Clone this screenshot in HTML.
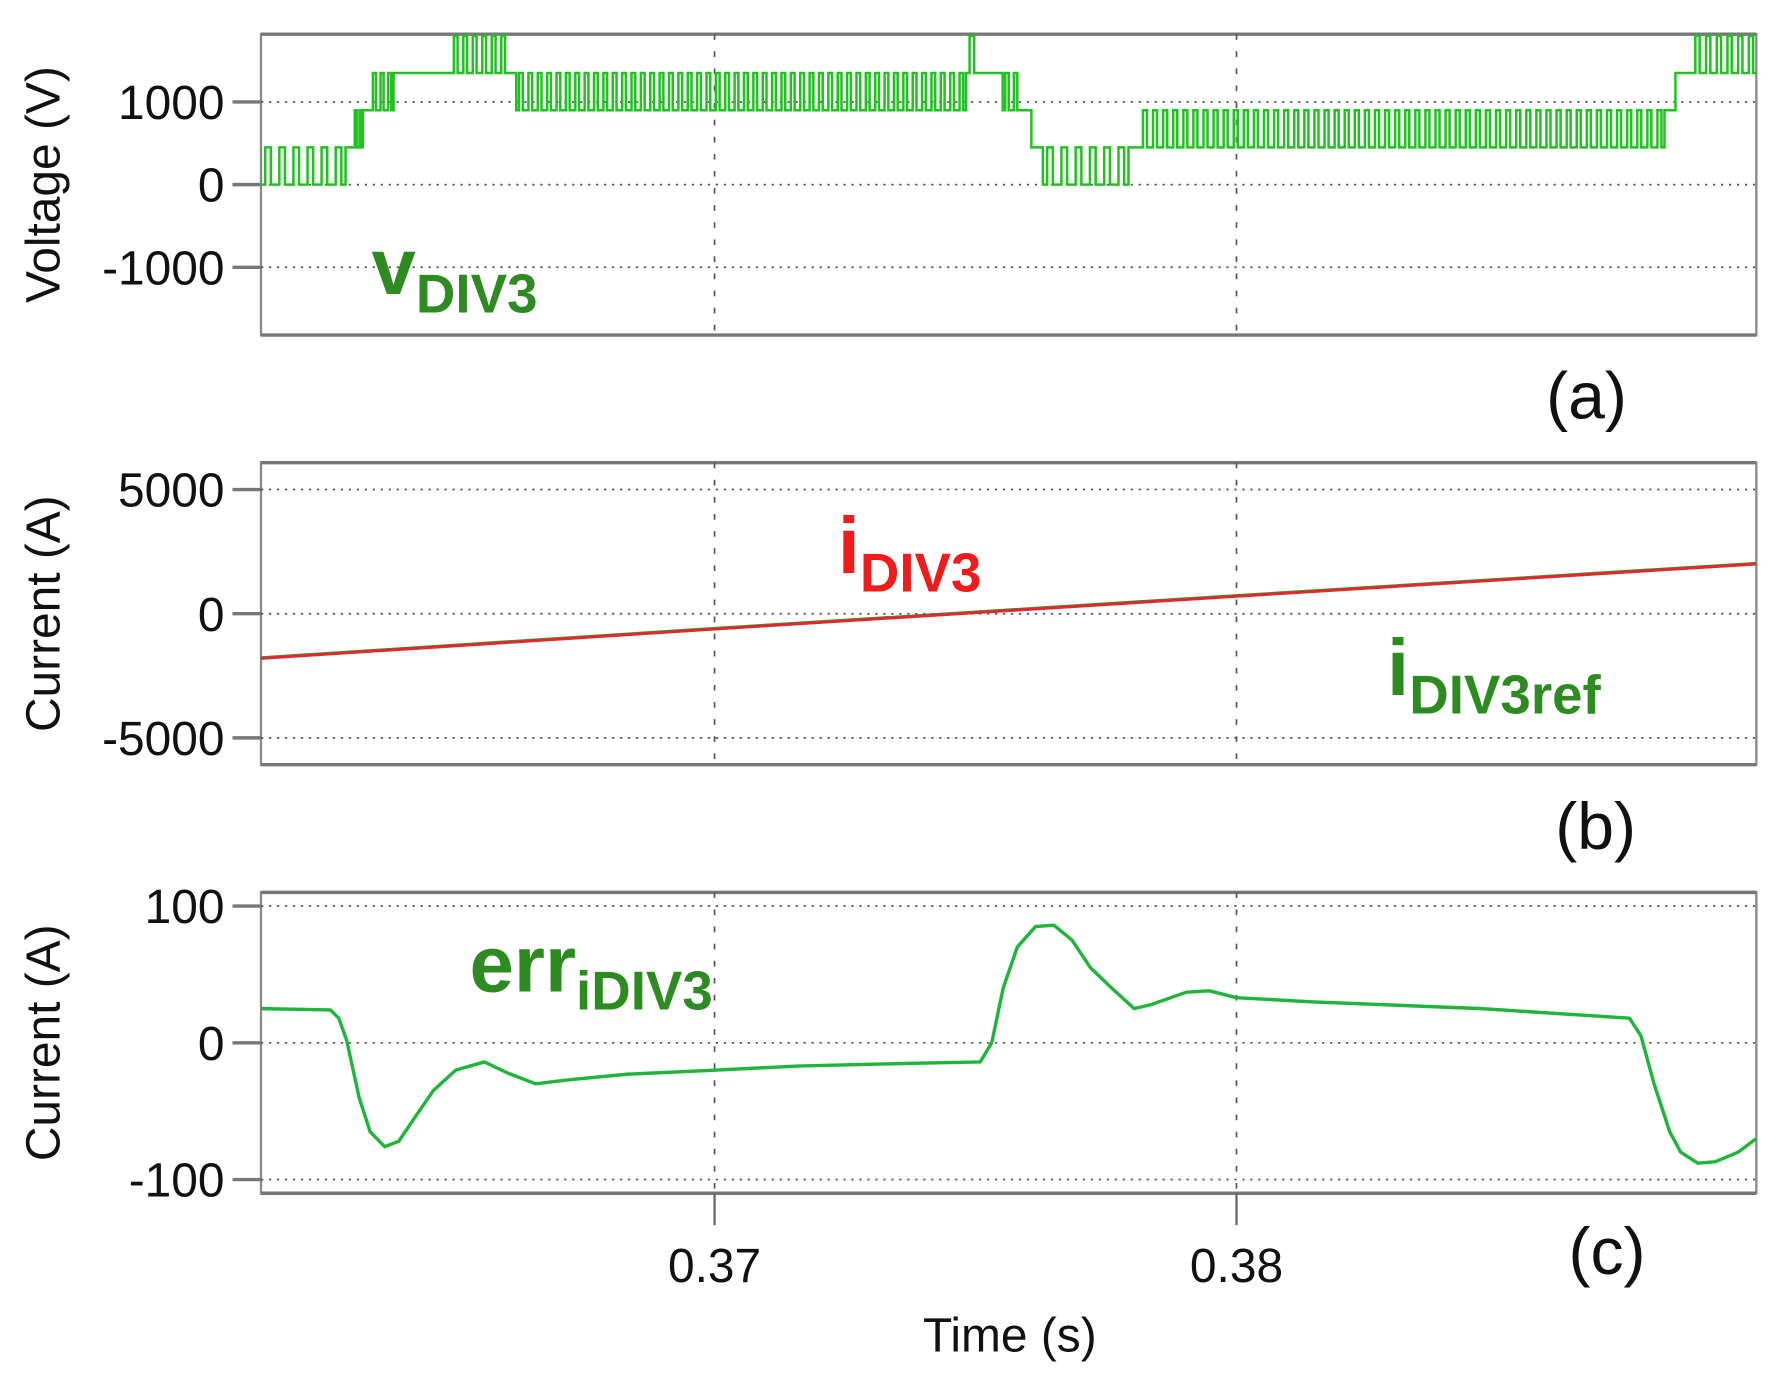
<!DOCTYPE html>
<html><head><meta charset="utf-8"><style>
html,body{margin:0;padding:0;background:#fff;}
svg{display:block;}
text{font-family:"Liberation Sans",sans-serif;}
</style></head><body>
<svg id="c" width="1778" height="1379" viewBox="0 0 1560 1210" preserveAspectRatio="none" xmlns="http://www.w3.org/2000/svg"></svg>
<script>
// ---- data ----
const xTicks = [0.37, 0.38];
const xTickLabels = ["0.37", "0.38"];
// voltage segments: [tStart, tEnd, low, high, pulses]
const vSegStart = [0.36131,0.36293,0.36308,0.36326,0.36341,0.36385,0.36495,0.36604,0.36620,0.37482,0.37504,0.37552,0.37585,0.37607,0.37629,0.37793,0.37815,0.38820,0.38841,0.38873];
const vSegEnd   = [0.36293,0.36308,0.36326,0.36341,0.36385,0.36495,0.36604,0.36620,0.37482,0.37504,0.37552,0.37585,0.37607,0.37629,0.37793,0.37815,0.38820,0.38841,0.38873,0.38996];
const vSegLow   = [0,450,450,900,900,1350,1350,1350,900,1350,1350,900,900,450,0,450,450,900,1350,1350];
const vSegHigh  = [450,450,900,900,1350,1350,1800,1350,1350,1800,1350,1350,900,450,450,450,900,900,1350,1800];
const vSegPulses= [6,0,2,0,3,0,6,0,48,1,0,2,0,0,6,0,52,0,0,6];
const iTimes = [0.36131,0.37,0.38,0.38996];
const iValues = [-1800,-620,700,2000];
const iRefValues = [-1780,-600,720,2020];
const eTimes = [0.36131,0.36264,0.36280,0.36295,0.36319,0.36340,0.36368,0.36395,0.36425,0.36461,0.36504,0.36559,0.36603,0.36657,0.36723,0.36832,0.37,0.37159,0.37378,0.37509,0.37531,0.37553,0.37580,0.37615,0.37650,0.37685,0.37720,0.37761,0.37804,0.37837,0.37904,0.37948,0.38,0.38142,0.38469,0.38753,0.38775,0.38800,0.38830,0.38851,0.38884,0.38917,0.38961,0.38996];
const eValues = [25,24,18,2,-40,-65,-76,-72,-55,-35,-20,-14,-22,-30,-27,-23,-20,-17,-15,-14,0,40,70,85,86,75,55,40,25,28,37,38,33,30,25,18,5,-30,-65,-80,-88,-87,-80,-70];

// ---- layout ----
const NS="http://www.w3.org/2000/svg";
const svg=document.getElementById('c');
const X0=229,X1=1541,T0=0.36131,T1=0.38996;
const xs=t=>X0+(t-T0)/(T1-T0)*(X1-X0);
function el(tag,attrs,parent){const e=document.createElementNS(NS,tag);for(const k in attrs)e.setAttribute(k,attrs[k]);(parent||svg).appendChild(e);return e;}
function txt(s,x,y,size,fill,extra){const e=el('text',Object.assign({x:x,y:y,'font-size':size,fill:fill},extra||{}));e.textContent=s;return e;}

const panels=[
 {top:30,bot:294,vmin:-1820,vmax:1820,ticks:[1000,0,-1000],labels:["1000","0","-1000"],title:"Voltage (V)",tag:"(a)",tagX:1392,tagY:367,name:'voltage'},
 {top:406,bot:671,vmin:-6080,vmax:6080,ticks:[5000,0,-5000],labels:["5000","0","-5000"],title:"Current (A)",tag:"(b)",tagX:1400,tagY:745,name:'current'},
 {top:783,bot:1047,vmin:-110,vmax:110,ticks:[100,0,-100],labels:["100","0","-100"],title:"Current (A)",tag:"(c)",tagX:1410,tagY:1118,name:'error'}
];
panels.forEach(p=>{
 p.ys=v=>p.top+(p.vmax-v)/(p.vmax-p.vmin)*(p.bot-p.top);
 const g=el('g',{});
 
 
 const fr=el('rect',{x:X0,y:p.top,width:X1-X0,height:p.bot-p.top,fill:'#fff',stroke:'#888','stroke-width':2},g);
 
 
 el('line',{x1:X0,y1:p.top,x2:X1,y2:p.top,stroke:'#777','stroke-width':3},g);
 el('line',{x1:X0,y1:p.bot,x2:X1,y2:p.bot,stroke:'#777','stroke-width':3},g);
 xTicks.forEach(t=>{const l=el('line',{x1:xs(t),y1:p.top,x2:xs(t),y2:p.bot,stroke:'#555','stroke-width':1.5,'stroke-dasharray':'5,10'},g);
  });
 p.ticks.forEach((v,i)=>{const y=p.ys(v);
  const l=el('line',{x1:X0,y1:y,x2:X1,y2:y,stroke:'#555','stroke-width':1.5,'stroke-dasharray':'2,5'},g);
  
  el('line',{x1:204,y1:y,x2:X0,y2:y,stroke:'#777','stroke-width':3},g);
  const tl=txt(p.labels[i],197,y+15,42,'#111',{'text-anchor':'end'});
  
 });
 const yt=txt(p.title,0,0,42,'#111',{'text-anchor':'middle',transform:`translate(52,${(p.top+p.bot)/2}) rotate(-90)`});
 
 const tg=txt(p.tag,p.tagX,p.tagY,58,'#111',{'text-anchor':'middle'});
 
});

// voltage waveform
(function(){const p=panels[0];let d=`M${xs(vSegStart[0])},${p.ys(vSegLow[0])}`;
 for(let i=0;i<vSegStart.length;i++){
  const a=xs(vSegStart[i]),b=xs(vSegEnd[i]),lo=p.ys(vSegLow[i]),hi=p.ys(vSegHigh[i]),n=vSegPulses[i];
  if(n===0){d+=`L${a},${lo}L${b},${lo}`;}
  else{const w=(b-a)/n;for(let k=0;k<n;k++){const s=a+k*w;d+=`L${s},${lo}L${s+w*0.3},${lo}L${s+w*0.3},${hi}L${s+w*0.7},${hi}L${s+w*0.7},${lo}L${s+w},${lo}`;}}
 }
 const path=el('path',{d:d,fill:'none',stroke:'#1fc21f','stroke-width':2.2,'stroke-linejoin':'miter'});
 
})();
// currents
(function(){const p=panels[1];
 const r=el('polyline',{points:iTimes.map((t,i)=>xs(t)+','+p.ys(iRefValues[i])).join(' '),fill:'none',stroke:'#2a9a2a','stroke-width':3});
 
 const l=el('polyline',{points:iTimes.map((t,i)=>xs(t)+','+p.ys(iValues[i])).join(' '),fill:'none',stroke:'#e8252a','stroke-width':2.5});
 
})();
// error
(function(){const p=panels[2];
 const l=el('polyline',{points:eTimes.map((t,i)=>xs(t)+','+p.ys(eValues[i])).join(' '),fill:'none',stroke:'#1fb53a','stroke-width':3,'stroke-linejoin':'round'});
 
})();
// x ticks bottom
xTicks.forEach((t,i)=>{const x=xs(t);
 el('line',{x1:x,y1:1047,x2:x,y2:1075,stroke:'#666','stroke-width':2});
 const tl=txt(xTickLabels[i],x,1125,42,'#111',{'text-anchor':'middle'});
 
});
const xt=txt("Time (s)",886,1186,42,'#111',{'text-anchor':'middle'});


// series annotations
function ann(main,sub,x,y,color,name,ms,ss){const t=el('text',{x:x,y:y,fill:color,'font-size':ms,'font-weight':'bold'});
 
 const a=el('tspan',{},t);a.textContent=main;const b=el('tspan',{dy:16,'font-size':ss},t);b.textContent=sub;}
ann('v','DIV3',326,258,'#2e8b22','vdiv3-label',70,48);
ann('i','DIV3',735,503,'#ee1c1c','idiv3-label',70,48);
ann('i','DIV3ref',1217,610,'#2e8b22','idiv3ref-label',70,48);
ann('err','iDIV3',412,870,'#2e8b22','erridiv3-label',70,48);
</script>
</body></html>
